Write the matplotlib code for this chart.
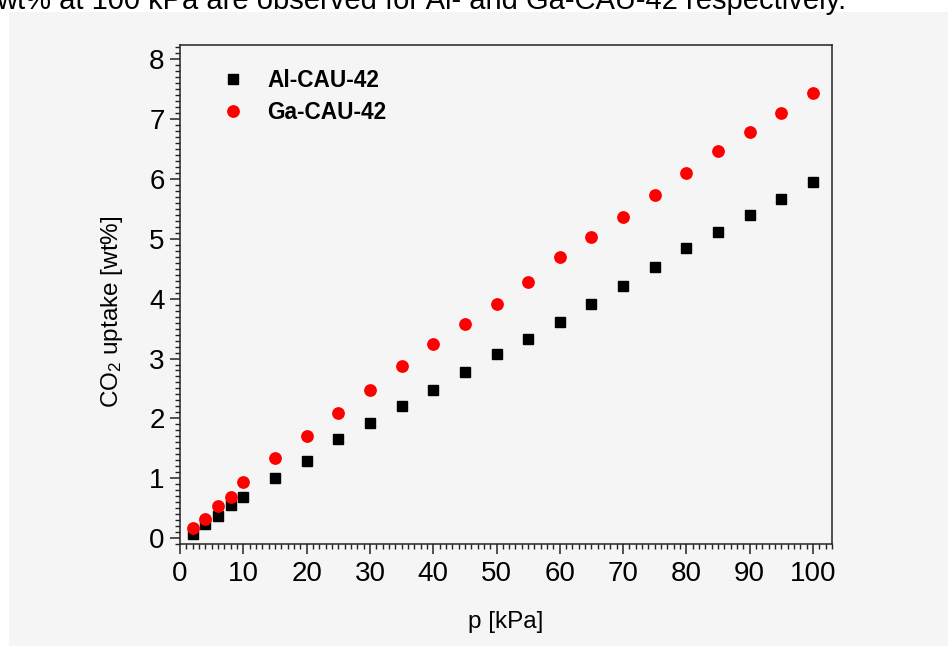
import matplotlib
matplotlib.use("Agg")
import matplotlib.pyplot as plt
from matplotlib.ticker import MultipleLocator
from matplotlib.patches import Rectangle

plt.rcParams['font.family'] = ['Liberation Sans', 'DejaVu Sans']
plt.rcParams['mathtext.default'] = 'regular'

# CO2 uptake isotherms
pressure = [2, 4, 6, 8, 10, 15, 20, 25, 30, 35, 40, 45, 50, 55, 60, 65, 70, 75, 80, 85, 90, 95, 100]
al_uptake = [0.06, 0.23, 0.36, 0.55, 0.68, 1.01, 1.29, 1.65, 1.92, 2.21, 2.47, 2.77,
             3.08, 3.33, 3.61, 3.91, 4.22, 4.53, 4.85, 5.12, 5.40, 5.66, 5.95]
ga_uptake = [0.17, 0.31, 0.53, 0.69, 0.93, 1.33, 1.70, 2.09, 2.48, 2.88, 3.24, 3.57,
             3.91, 4.28, 4.69, 5.03, 5.37, 5.74, 6.10, 6.47, 6.79, 7.10, 7.44]
series_names = ["Al-CAU-42", "Ga-CAU-42"]
caption = "wt% at 100 kPa are observed for Al- and Ga-CAU-42 respectively."

bg = "#f5f5f5"
fig = plt.figure(figsize=(9.48, 6.46), dpi=100, facecolor=bg)

# white margin strips of the page plus the sentence cut by the top edge
fig.patches.append(Rectangle((0, 1 - 12 / 646), 1, 12 / 646, transform=fig.transFigure,
                             facecolor="white", edgecolor="none", zorder=0))
fig.patches.append(Rectangle((0, 0), 9 / 948, 1, transform=fig.transFigure,
                             facecolor="white", edgecolor="none", zorder=0))
fig.text(-0.004, 1 - 9 / 646, caption, fontsize=21, va="baseline", ha="left", color="black")

ax = fig.add_axes([180 / 948, 102 / 646, 652 / 948, 499 / 646])
ax.set_facecolor(bg)

ax.plot(pressure, al_uptake, linestyle="none", marker="s", markersize=7.8,
        color="black", label=series_names[0], zorder=3)
ax.plot(pressure, ga_uptake, linestyle="none", marker="o", markersize=9.2,
        color="#ff0000", markeredgewidth=0, label=series_names[1], zorder=4)

ax.set_xlim(0, 103)
ax.set_ylim(-0.1, 8.24)
ax.xaxis.set_major_locator(MultipleLocator(10))
ax.xaxis.set_minor_locator(MultipleLocator(1))
ax.yaxis.set_major_locator(MultipleLocator(1))
ax.yaxis.set_minor_locator(MultipleLocator(0.1))

for s in ax.spines.values():
    s.set_linewidth(1.1)
    s.set_color("#222222")
ax.tick_params(which="major", direction="out", length=7, width=1.1, labelsize=20, color="#222222")
ax.tick_params(which="minor", direction="out", length=3.5, width=1.0, color="#222222")
ax.tick_params(axis="x", which="major", pad=5)
ax.tick_params(axis="y", which="major", pad=4)

ax.set_xlabel("p [kPa]", fontsize=17.5)
ax.set_ylabel("CO$_2$ uptake [wt%]", fontsize=17.5)
ax.xaxis.set_label_coords(0.5, -0.134)
ax.yaxis.set_label_coords(-0.084, 0.465)

ax.legend(loc="upper left", bbox_to_anchor=(0.047, 0.971), frameon=False,
          prop={"weight": "bold", "size": 16.3}, handletextpad=0.9,
          labelspacing=0.42, borderaxespad=0, handlelength=1.2)

fig.savefig("out.png", dpi=100, facecolor=bg)
